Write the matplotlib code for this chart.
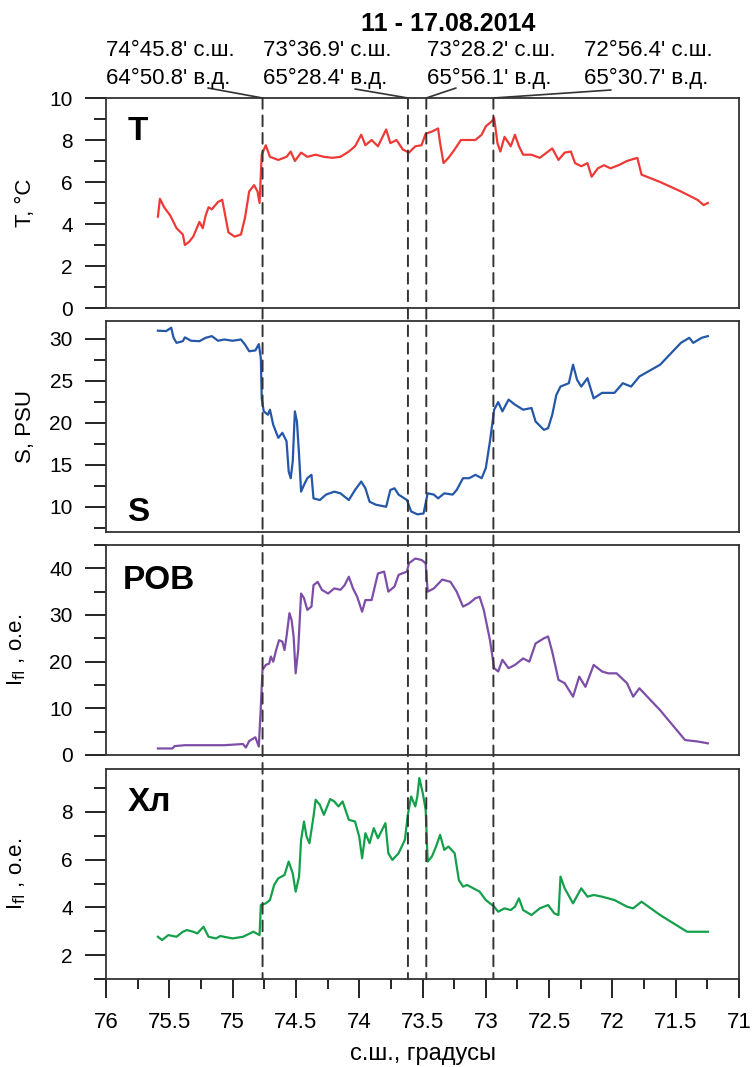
import matplotlib
matplotlib.use('Agg')
import matplotlib.pyplot as plt
from matplotlib.patches import ConnectionPatch
from matplotlib.ticker import MultipleLocator, FormatStrFormatter

plt.rcParams['font.family'] = ['Liberation Sans', 'DejaVu Sans']

# ---- data (latitude, degrees N) ----
t_lat = [75.590, 75.574, 75.541, 75.492, 75.443, 75.393, 75.377, 75.344, 75.311, 75.262,
         75.236, 75.213, 75.190, 75.164, 75.115, 75.082, 75.066, 75.033, 74.984, 74.934,
         74.902, 74.869, 74.830, 74.803, 74.787, 74.777, 74.770, 74.738, 74.705, 74.639,
         74.574, 74.541, 74.508, 74.459, 74.410, 74.344, 74.279, 74.213, 74.148, 74.082,
         74.033, 73.984, 73.951, 73.902, 73.852, 73.787, 73.754, 73.705, 73.656, 73.607,
         73.557, 73.508, 73.475, 73.426, 73.377, 73.361, 73.334, 73.295, 73.246, 73.197,
         73.131, 73.082, 73.033, 73.000, 72.951, 72.934, 72.908, 72.885, 72.852, 72.803,
         72.770, 72.738, 72.705, 72.639, 72.574, 72.508, 72.475, 72.426, 72.377, 72.328,
         72.295, 72.246, 72.197, 72.164, 72.115, 72.066, 72.016, 71.951, 71.885, 71.803,
         71.770, 71.623, 71.459, 71.328, 71.279, 71.246]
t_val = [4.35, 5.2, 4.8, 4.4, 3.8, 3.5, 3.0, 3.15, 3.4, 4.1,
         3.8, 4.4, 4.8, 4.7, 5.05, 5.15, 4.65, 3.6, 3.4, 3.5,
         4.3, 5.55, 5.85, 5.55, 5.0, 6.35, 7.3, 7.75, 7.2, 7.05,
         7.2, 7.45, 7.0, 7.4, 7.2, 7.3, 7.2, 7.15, 7.2, 7.45,
         7.7, 8.25, 7.75, 8.0, 7.7, 8.5, 7.85, 8.0, 7.55, 7.4,
         7.7, 7.75, 8.3, 8.4, 8.55, 7.85, 6.9, 7.15, 7.55, 8.0,
         8.0, 8.0, 8.25, 8.65, 8.9, 9.05, 7.85, 7.45, 8.15, 7.7,
         8.25, 7.7, 7.3, 7.3, 7.15, 7.45, 7.6, 7.05, 7.4, 7.45,
         6.9, 6.75, 6.9, 6.25, 6.65, 6.8, 6.65, 6.8, 7.0, 7.15,
         6.35, 6.0, 5.55, 5.15, 4.9, 5.0]

s_lat = [75.590, 75.525, 75.485, 75.466, 75.443, 75.393, 75.377, 75.328, 75.262, 75.213,
         75.164, 75.115, 75.066, 75.000, 74.934, 74.902, 74.869, 74.820, 74.793, 74.777,
         74.770, 74.754, 74.721, 74.705, 74.679, 74.639, 74.607, 74.574, 74.557, 74.541,
         74.525, 74.508, 74.492, 74.475, 74.459, 74.436, 74.410, 74.377, 74.361, 74.311,
         74.262, 74.197, 74.148, 74.082, 74.033, 73.984, 73.951, 73.918, 73.869, 73.787,
         73.754, 73.721, 73.689, 73.623, 73.590, 73.541, 73.492, 73.459, 73.410, 73.377,
         73.328, 73.262, 73.230, 73.180, 73.131, 73.082, 73.033, 73.000, 72.967, 72.934,
         72.902, 72.869, 72.820, 72.770, 72.705, 72.639, 72.607, 72.541, 72.508, 72.475,
         72.443, 72.410, 72.344, 72.311, 72.279, 72.246, 72.197, 72.148, 72.082, 71.984,
         71.918, 71.852, 71.787, 71.623, 71.459, 71.393, 71.361, 71.295, 71.246]
s_val = [30.95, 30.9, 31.3, 30.1, 29.5, 29.7, 30.15, 29.75, 29.7, 30.1,
         30.3, 29.75, 29.9, 29.75, 29.9, 29.3, 28.5, 28.6, 29.35, 27.7,
         22.9, 21.35, 20.95, 21.55, 19.75, 18.2, 18.8, 17.8, 14.2, 13.4,
         15.4, 21.35, 20.15, 16.2, 11.8, 12.6, 13.4, 13.8, 11.0, 10.8,
         11.45, 11.8, 11.6, 10.8, 12.0, 13.0, 12.2, 10.6, 10.25, 10.0,
         12.0, 12.2, 11.45, 10.8, 9.45, 9.1, 9.2, 11.6, 11.45, 11.0,
         11.6, 11.45, 12.0, 13.4, 13.4, 13.8, 13.4, 14.6, 17.8, 21.55,
         22.45, 21.35, 22.75, 22.15, 21.55, 21.75, 20.15, 19.15, 19.35, 20.95,
         23.3, 24.3, 24.7, 26.9, 25.1, 24.3, 25.3, 22.9, 23.55, 23.55,
         24.7, 24.3, 25.5, 26.9, 29.5, 30.1, 29.5, 30.1, 30.3]

rov_lat = [75.590, 75.475, 75.459, 75.377, 75.230, 75.066, 74.918, 74.895, 74.869, 74.820,
           74.793, 74.777, 74.764, 74.738, 74.711, 74.698, 74.679, 74.656, 74.633, 74.607,
           74.590, 74.574, 74.551, 74.534, 74.518, 74.502, 74.482, 74.459, 74.436, 74.410,
           74.377, 74.361, 74.328, 74.295, 74.246, 74.197, 74.148, 74.115, 74.082, 74.049,
           74.016, 73.977, 73.951, 73.902, 73.852, 73.803, 73.770, 73.721, 73.689, 73.623,
           73.607, 73.557, 73.508, 73.475, 73.459, 73.410, 73.344, 73.279, 73.230, 73.180,
           73.131, 73.082, 73.049, 73.016, 72.967, 72.934, 72.902, 72.869, 72.820, 72.770,
           72.705, 72.656, 72.607, 72.541, 72.508, 72.475, 72.426, 72.377, 72.311, 72.262,
           72.213, 72.148, 72.082, 72.033, 71.967, 71.885, 71.836, 71.787, 71.623, 71.426,
           71.328, 71.246]
rov_val = [1.4, 1.4, 1.9, 2.1, 2.1, 2.1, 2.35, 1.6, 3.0, 3.8,
           1.8, 10.4, 18.2, 19.3, 19.6, 21.1, 20.0, 22.5, 24.6, 24.3,
           22.5, 25.4, 30.4, 28.9, 25.4, 17.5, 22.5, 34.6, 33.6, 31.1,
           31.8, 36.4, 37.1, 35.4, 34.6, 35.7, 35.4, 36.4, 38.2, 35.7,
           33.9, 30.7, 33.2, 33.2, 38.9, 39.3, 35.0, 36.1, 38.6, 39.3,
           41.1, 42.1, 41.8, 41.1, 35.0, 35.7, 37.6, 37.1, 35.0, 31.8,
           32.5, 33.6, 33.9, 31.1, 24.6, 18.6, 17.9, 20.4, 18.6, 19.3,
           20.7, 20.0, 23.9, 25.0, 25.4, 22.1, 16.1, 15.4, 12.5, 16.8,
           14.6, 19.3, 17.9, 17.5, 17.5, 15.4, 12.5, 14.3, 9.6, 3.2,
           2.9, 2.5]

chl_lat = [75.590, 75.557, 75.508, 75.443, 75.393, 75.361, 75.311, 75.279, 75.230, 75.190,
           75.131, 75.098, 75.000, 74.918, 74.836, 74.787, 74.777, 74.738, 74.705, 74.672,
           74.639, 74.590, 74.557, 74.525, 74.502, 74.475, 74.459, 74.436, 74.416, 74.393,
           74.361, 74.344, 74.311, 74.279, 74.229, 74.197, 74.164, 74.131, 74.082, 74.033,
           74.000, 73.977, 73.951, 73.918, 73.885, 73.852, 73.793, 73.770, 73.738, 73.689,
           73.639, 73.616, 73.590, 73.557, 73.541, 73.525, 73.498, 73.475, 73.459, 73.426,
           73.393, 73.361, 73.328, 73.295, 73.246, 73.213, 73.180, 73.148, 73.098, 73.049,
           73.000, 72.934, 72.902, 72.852, 72.803, 72.770, 72.738, 72.705, 72.639, 72.574,
           72.508, 72.459, 72.426, 72.410, 72.377, 72.311, 72.246, 72.197, 72.148, 72.082,
           71.984, 71.885, 71.836, 71.770, 71.623, 71.410, 71.246]
chl_val = [2.77, 2.63, 2.84, 2.77, 2.98, 3.05, 2.98, 2.91, 3.19, 2.77,
           2.70, 2.80, 2.70, 2.77, 2.98, 2.84, 4.10, 4.17, 4.31, 4.94,
           5.22, 5.36, 5.92, 5.43, 4.66, 5.29, 6.83, 7.60, 6.97, 6.69,
           7.81, 8.51, 8.30, 7.88, 8.54, 8.44, 8.23, 8.44, 7.67, 7.60,
           6.97, 6.06, 7.11, 6.69, 7.32, 6.90, 7.53, 6.27, 5.99, 6.27,
           6.83, 7.88, 8.65, 8.23, 8.65, 9.42, 8.79, 8.09, 5.92, 6.13,
           6.55, 7.04, 6.41, 6.55, 6.27, 5.15, 4.87, 4.94, 4.80, 4.66,
           4.31, 4.03, 3.82, 3.96, 3.89, 4.03, 4.38, 3.89, 3.68, 3.96,
           4.10, 3.75, 3.68, 5.29, 4.80, 4.17, 4.80, 4.45, 4.52, 4.45,
           4.31, 4.03, 3.96, 4.24, 3.68, 2.98, 2.98]

# stations marked by dashed lines (deg, minutes)
st_lat = [(74, 45.8), (73, 36.9), (73, 28.2), (72, 56.4)]
st_lon = [(64, 50.8), (65, 28.4), (65, 56.1), (65, 30.7)]

W, H = 752, 1067
fig = plt.figure(figsize=(W / 100, H / 100), dpi=100)

def fx(x):
    return x / W

def fy(y):
    return 1 - y / H

left, right = 106, 739
panels = [(98, 308), (321, 532), (545, 755), (769, 979)]
axes = []
for top, bot in panels:
    ax = fig.add_axes([fx(left), fy(bot), fx(right) - fx(left), (bot - top) / H])
    axes.append(ax)
ax1, ax2, ax3, ax4 = axes

ax1.plot(t_lat, t_val, color='#ee3a36', lw=1.6)
ax2.plot(s_lat, s_val, color='#2457a8', lw=1.6)
ax3.plot(rov_lat, rov_val, color='#7d4ea8', lw=1.6)
ax4.plot(chl_lat, chl_val, color='#14a04b', lw=1.6)

ylims = [(0, 10), (7, 32.1), (0, 45), (1, 9.8)]
ymaj = [2, 5, 10, 2]
ymin = [1, 2.5, 5, 1]
for ax, yl, mj, mn in zip(axes, ylims, ymaj, ymin):
    ax.set_xlim(76, 71)
    ax.set_ylim(*yl)
    ax.yaxis.set_major_locator(MultipleLocator(mj))
    ax.yaxis.set_minor_locator(MultipleLocator(mn))
    ax.tick_params(axis='y', which='major', direction='out', length=15, width=1.2,
                   labelsize=15, pad=9)
    ax.tick_params(axis='y', which='minor', direction='out', length=8.5, width=1.2)
    for sp in ax.spines.values():
        sp.set_linewidth(1.3)
        sp.set_color('#333333')
    if ax is not ax4:
        ax.tick_params(axis='x', which='both', bottom=False, labelbottom=False)

ax4.xaxis.set_major_locator(MultipleLocator(0.5))
ax4.xaxis.set_minor_locator(MultipleLocator(0.25))
ax4.xaxis.set_major_formatter(FormatStrFormatter('%g'))
ax4.tick_params(axis='x', which='major', direction='out', length=14, width=1.2,
                labelsize=16, pad=10)
ax4.tick_params(axis='x', which='minor', direction='out', length=7, width=1.2)
ax4.set_xlabel('с.ш., градусы', fontsize=17, labelpad=7)

# panel letters
ax1.text(0.034, 0.80, 'T', transform=ax1.transAxes, fontsize=24, fontweight='bold')
ax2.text(0.034, 0.05, 'S', transform=ax2.transAxes, fontsize=24, fontweight='bold')
ax3.text(0.027, 0.79, 'POB', transform=ax3.transAxes, fontsize=24, fontweight='bold')
ax4.text(0.034, 0.80, 'Хл', transform=ax4.transAxes, fontsize=24, fontweight='bold')

# y labels
fig.text(fx(25), fy(203), 'T, °C', rotation=90, ha='center', va='center', fontsize=16)
fig.text(fx(25), fy(426), 'S, PSU', rotation=90, ha='center', va='center', fontsize=16)
fig.text(fx(17), fy(650), r'I$_{\rm fl}$ , о.е.', rotation=90, ha='center', va='center', fontsize=16)
fig.text(fx(17), fy(874), r'I$_{\rm fl}$ , о.е.', rotation=90, ha='center', va='center', fontsize=16)

# dashed station lines through all panels
for d, m in st_lat:
    lat = d + m / 60
    con = ConnectionPatch(xyA=(lat, 1), coordsA=ax1.get_xaxis_transform(),
                          xyB=(lat, 0), coordsB=ax4.get_xaxis_transform(),
                          color='#333333', lw=1.4, linestyle=(0, (5.5, 3.5)))
    fig.add_artist(con)

# station annotations
fig.text(fx(448), fy(24), '11 - 17.08.2014', ha='center', va='center',
         fontsize=18, fontweight='bold')
text_x = [106, 263, 427, 584]
lead_start = [(208, 88), (355, 89), (456, 88), (611, 90)]
for (d, m), (ld, lm), tx, (sx, sy) in zip(st_lat, st_lon, text_x, lead_start):
    fig.text(fx(tx), fy(51), "%d°%.1f' с.ш." % (d, m), ha='left', va='center', fontsize=16)
    fig.text(fx(tx), fy(78), "%d°%.1f' в.д." % (ld, lm), ha='left', va='center', fontsize=16)
    con = ConnectionPatch(xyA=(fx(sx), fy(sy)), coordsA='figure fraction',
                          xyB=(d + m / 60, 1), coordsB=ax1.get_xaxis_transform(),
                          color='#333333', lw=1.2)
    fig.add_artist(con)

fig.savefig('out.png', dpi=100)
